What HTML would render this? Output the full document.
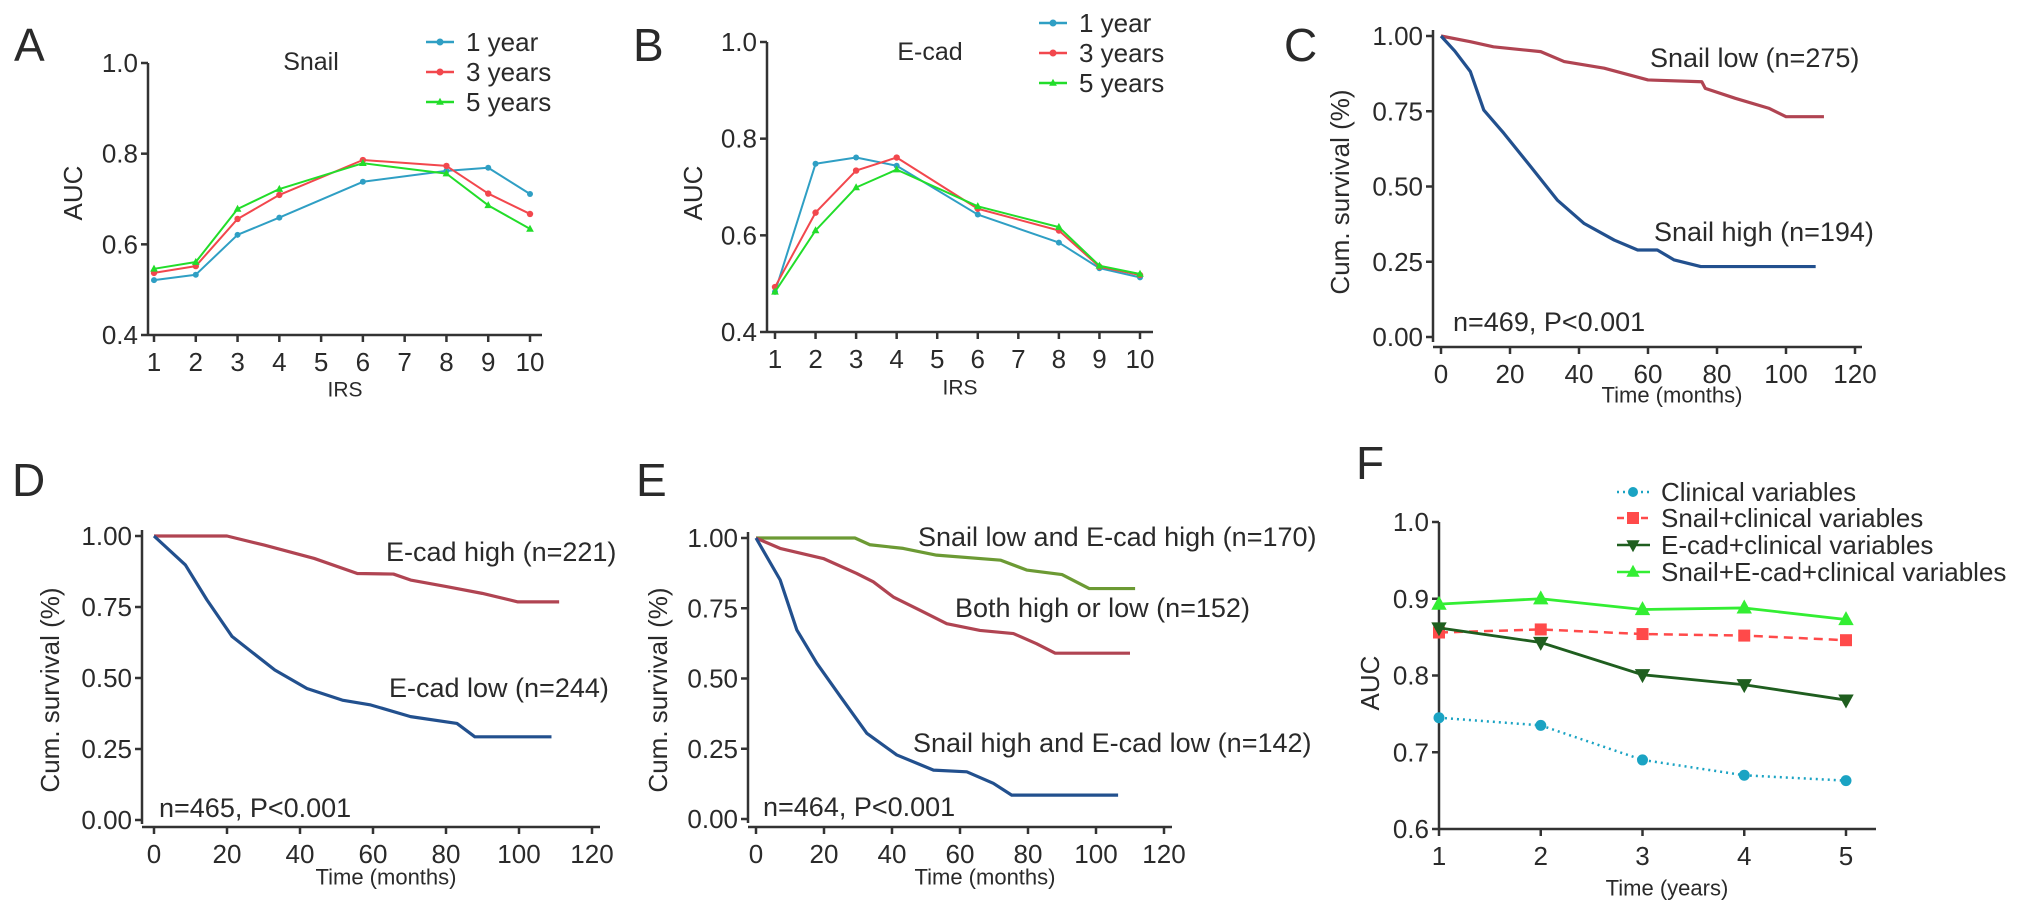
<!DOCTYPE html>
<html><head><meta charset="utf-8"><style>
html,body{margin:0;padding:0;background:#fff;}
svg{display:block;font-family:"Liberation Sans",Arial,sans-serif;}
text{fill:#2a2a2a;}
</style></head><body>
<svg id="fig" width="2032" height="914" viewBox="0 0 2032 914" xmlns="http://www.w3.org/2000/svg"></svg>
<script>
// ---------- DATA ----------
const irsA = [1,2,3,4,6,8,9,10];
const aucA1 = [0.521,0.533,0.621,0.659,0.738,0.762,0.769,0.711];
const aucA3 = [0.537,0.552,0.656,0.709,0.786,0.773,0.712,0.667];
const aucA5 = [0.546,0.561,0.678,0.722,0.779,0.756,0.686,0.634];
const irsB = [1,2,3,4,6,8,9,10];
const aucB1 = [0.483,0.748,0.761,0.744,0.643,0.585,0.532,0.513];
const aucB3 = [0.493,0.647,0.734,0.761,0.655,0.610,0.535,0.518];
const aucB5 = [0.483,0.610,0.699,0.736,0.660,0.617,0.537,0.520];
const irsTicks = [1,2,3,4,5,6,7,8,9,10];
const aucTicksAB = [0.4,0.6,0.8,1.0];

const cLowT = [0,8.5,15.2,28.9,35.7,47.3,60,75.6,76.6,85.3,95,100,111];
const cLowS = [1,0.981,0.964,0.948,0.915,0.893,0.854,0.848,0.826,0.793,0.76,0.732,0.732];
const cHighT = [0,4,8.5,12.4,18.2,26,33.7,41.5,50.2,57,62.7,67.6,75.3,108.6];
const cHighS = [1,0.95,0.882,0.754,0.677,0.566,0.455,0.377,0.322,0.289,0.289,0.256,0.234,0.234];
const dHighT = [0,20,30.2,43.9,55.7,65.6,70.3,80.1,89.9,99.7,111];
const dHighS = [1,1,0.968,0.921,0.868,0.866,0.845,0.822,0.798,0.768,0.768];
const dLowT = [0,8.6,14.5,21.4,33.1,41.9,51.6,59.4,70.3,83,87.9,108.9];
const dLowS = [1,0.898,0.775,0.646,0.528,0.463,0.422,0.405,0.364,0.340,0.293,0.293];
const eGreenT = [0,29.1,33.5,43.3,53.1,72,79.6,90,98,111.5];
const eGreenS = [1,1,0.976,0.963,0.939,0.921,0.886,0.87,0.82,0.82];
const eRedT = [0,7.1,19.8,29.6,34.5,40.4,48.2,56.1,65.9,75.7,82.5,88,110];
const eRedS = [1,0.963,0.927,0.874,0.844,0.790,0.743,0.695,0.671,0.660,0.624,0.59,0.59];
const eBlueT = [0,7.1,12,17.9,24.8,32.6,41.4,52.2,62,69.8,75.2,106.5];
const eBlueS = [1,0.851,0.673,0.554,0.436,0.305,0.228,0.174,0.168,0.127,0.085,0.085];
const survTicks = [0,0.25,0.5,0.75,1.0];
const monthTicks = [0,20,40,60,80,100,120];

const years = [1,2,3,4,5];
const fClin = [0.745,0.735,0.690,0.670,0.663];
const fSnail = [0.856,0.860,0.854,0.852,0.846];
const fEcad = [0.862,0.843,0.801,0.788,0.768];
const fAll = [0.893,0.900,0.886,0.888,0.873];
const fTicks = [0.6,0.7,0.8,0.9,1.0];

// ---------- HELPERS ----------
const NS="http://www.w3.org/2000/svg";
const svg=document.getElementById('fig');
function el(tag,attrs,parent){const e=document.createElementNS(NS,tag);for(const k in attrs)e.setAttribute(k,attrs[k]);(parent||svg).appendChild(e);return e;}
function txt(s,x,y,size,anchor,parent,extra){const t=el('text',Object.assign({x:x,y:y,'font-size':size,'text-anchor':anchor||'start','dominant-baseline':'central'},extra||{}),parent);t.textContent=s;return t;}
function lin(d0,d1,p0,p1){return v=>p0+(v-d0)*(p1-p0)/(d1-d0);}
function grp(name){const g=el('g',{});return g;}

function axes(g,X,Y,o){
  const ya=el('line',{x1:o.ax,y1:o.yTop,x2:o.ax,y2:o.yBot,stroke:'#333','stroke-width':2.5},g);
  
  o.yt.forEach(v=>{el('line',{x1:o.ax-7,y1:Y(v),x2:o.ax,y2:Y(v),stroke:'#333','stroke-width':2.5},g);
    const t=txt(o.yfmt(v),o.ax-10,Y(v),o.fs||26,'end',g);});
  const xa=el('line',{x1:o.xl,y1:o.xy,x2:o.xr,y2:o.xy,stroke:'#333','stroke-width':2.5},g);
  
  o.xt.forEach(v=>{el('line',{x1:X(v),y1:o.xy,x2:X(v),y2:o.xy+7,stroke:'#333','stroke-width':2.5},g);
    const t=txt(String(v),X(v),o.xy+27,o.fs||26,'middle',g);});
}
function yTitle(g,s,x,y,size){const t=txt(s,x,y,size,'middle',g,{transform:'rotate(-90 '+x+' '+y+')'});}
function xTitle(g,s,x,y,size){const t=txt(s,x,y,size,'middle',g);}
function letter(s,x,y){const t=txt(s,x,y,46,'start');}

function marker(g,type,x,y,color,r){
  let m;
  if(type==='circle')m=el('circle',{cx:x,cy:y,r:r,fill:color},g);
  else if(type==='square')m=el('rect',{x:x-r,y:y-r,width:2*r,height:2*r,fill:color},g);
  else if(type==='up')m=el('polygon',{points:`${x},${y-r*1.2} ${x-r*1.1},${y+r*0.8} ${x+r*1.1},${y+r*0.8}`,fill:color},g);
  else m=el('polygon',{points:`${x},${y+r*1.2} ${x-r*1.1},${y-r*0.8} ${x+r*1.1},${y-r*0.8}`,fill:color},g);
  return m;
}
function series(g,name,xs,ys,X,Y,color,w,dash,mk,r){
  const s=grp(name);g.appendChild(s);
  const pts=xs.map((v,i)=>X(v)+','+Y(ys[i])).join(' ');
  const pl=el('polyline',{points:pts,fill:'none',stroke:color,'stroke-width':w,'stroke-dasharray':dash||'none','stroke-linejoin':'round'},s);
  
  xs.forEach((v,i)=>{const m=marker(s,mk,X(v),Y(ys[i]),color,r);
    });
}
function km(g,name,ts,ss,X,Y,color){
  let d='M'+X(ts[0])+','+Y(ss[0]);
  for(let i=1;i<ts.length;i++){d+=' L'+X(ts[i])+','+Y(ss[i]);}
  const p=el('path',{d:d,fill:'none',stroke:color,'stroke-width':3.2,'stroke-linejoin':'round'},g);
  
}
function legendAB(g,x0,y0){
  const items=[['1 year','#2f9fc4','circle'],['3 years','#f2474d','circle'],['5 years','#22dd2a','up']];
  items.forEach((it,i)=>{const y=y0+i*30;const lg=grp('legend-entry');g.appendChild(lg);
    el('line',{x1:x0,y1:y,x2:x0+28,y2:y,stroke:it[1],'stroke-width':2.5},lg);
    marker(lg,it[2],x0+14,y,it[1],3.5);
    txt(it[0],x0+40,y,26,'start',lg);});
}

// ---------- PANEL A ----------
(function(){
  const g=grp('panel-a-snail-auc');svg.appendChild(g);
  letter('A',14,45);
  const X=lin(1,10,154,530),Y=lin(0.4,1.0,335,63);
  axes(g,X,Y,{ax:148,yTop:63,yBot:335,yt:aucTicksAB,yfmt:v=>v.toFixed(1),xl:148,xr:542,xy:335,xt:irsTicks});
  yTitle(g,'AUC',73,193,26);xTitle(g,'IRS',345,390,21);
  const t=txt('Snail',311,62,25,'middle',g);
  series(g,'series-1-year',irsA,aucA1,X,Y,'#2f9fc4',2,null,'circle',3);
  series(g,'series-3-years',irsA,aucA3,X,Y,'#f2474d',2,null,'circle',3.2);
  series(g,'series-5-years',irsA,aucA5,X,Y,'#22dd2a',2,null,'up',3.5);
  legendAB(g,426,42);
})();
// ---------- PANEL B ----------
(function(){
  const g=grp('panel-b-ecad-auc');svg.appendChild(g);
  letter('B',633,45);
  const X=lin(1,10,775,1140),Y=lin(0.4,1.0,332,42);
  axes(g,X,Y,{ax:767,yTop:42,yBot:332,yt:aucTicksAB,yfmt:v=>v.toFixed(1),xl:767,xr:1153,xy:332,xt:irsTicks});
  yTitle(g,'AUC',693,193,26);xTitle(g,'IRS',960,388,21);
  const t=txt('E-cad',930,52,25,'middle',g);
  series(g,'series-1-year',irsB,aucB1,X,Y,'#2f9fc4',2,null,'circle',3);
  series(g,'series-3-years',irsB,aucB3,X,Y,'#f2474d',2,null,'circle',3.2);
  series(g,'series-5-years',irsB,aucB5,X,Y,'#22dd2a',2,null,'up',3.5);
  legendAB(g,1039,23);
})();
// ---------- PANEL C ----------
(function(){
  const g=grp('panel-c-snail-survival');svg.appendChild(g);
  letter('C',1284,45);
  const X=lin(0,120,1441,1855),Y=lin(0,1,337,36);
  axes(g,X,Y,{ax:1433,yTop:30,yBot:342,yt:survTicks,yfmt:v=>v.toFixed(2),xl:1433,xr:1862,xy:347,xt:monthTicks});
  yTitle(g,'Cum. survival (%)',1340,192,26);xTitle(g,'Time (months)',1672,395,22);
  km(g,'snail-low-curve',cLowT,cLowS,X,Y,'#b04452');
  km(g,'snail-high-curve',cHighT,cHighS,X,Y,'#22508e');
  txt('Snail low (n=275)',1650,58,27,'start',g);
  txt('Snail high (n=194)',1654,232,27,'start',g);
  txt('n=469, P<0.001',1453,322,27,'start',g);
})();
// ---------- PANEL D ----------
(function(){
  const g=grp('panel-d-ecad-survival');svg.appendChild(g);
  letter('D',12,480);
  const X=lin(0,120,154,592),Y=lin(0,1,820,536);
  axes(g,X,Y,{ax:142,yTop:530,yBot:824,yt:survTicks,yfmt:v=>v.toFixed(2),xl:142,xr:600,xy:827,xt:monthTicks});
  yTitle(g,'Cum. survival (%)',50,690,26);xTitle(g,'Time (months)',386,877,22);
  km(g,'ecad-high-curve',dHighT,dHighS,X,Y,'#b04452');
  km(g,'ecad-low-curve',dLowT,dLowS,X,Y,'#22508e');
  txt('E-cad high (n=221)',386,552,27,'start',g);
  txt('E-cad low (n=244)',389,688,27,'start',g);
  txt('n=465, P<0.001',159,808,27,'start',g);
})();
// ---------- PANEL E ----------
(function(){
  const g=grp('panel-e-combined-survival');svg.appendChild(g);
  letter('E',636,480);
  const X=lin(0,120,756,1164),Y=lin(0,1,819,538);
  axes(g,X,Y,{ax:748,yTop:532,yBot:823,yt:survTicks,yfmt:v=>v.toFixed(2),xl:748,xr:1172,xy:827,xt:monthTicks});
  yTitle(g,'Cum. survival (%)',658,690,26);xTitle(g,'Time (months)',985,877,22);
  km(g,'snail-low-ecad-high-curve',eGreenT,eGreenS,X,Y,'#6c9a34');
  km(g,'both-high-or-low-curve',eRedT,eRedS,X,Y,'#b04452');
  km(g,'snail-high-ecad-low-curve',eBlueT,eBlueS,X,Y,'#22508e');
  txt('Snail low and E-cad high (n=170)',918,537,27,'start',g);
  txt('Both high or low (n=152)',955,608,27,'start',g);
  txt('Snail high and E-cad low (n=142)',913,743,27,'start',g);
  txt('n=464, P<0.001',763,807,27,'start',g);
})();
// ---------- PANEL F ----------
(function(){
  const g=grp('panel-f-model-auc');svg.appendChild(g);
  letter('F',1356,463);
  const X=lin(1,5,1439,1846),Y=lin(0.6,1.0,829,522);
  axes(g,X,Y,{ax:1439,yTop:522,yBot:829,yt:fTicks,yfmt:v=>v.toFixed(1),xl:1439,xr:1876,xy:829,xt:years});
  yTitle(g,'AUC',1370,683,26);xTitle(g,'Time (years)',1667,888,22);
  series(g,'clinical-variables',years,fClin,X,Y,'#1aa3c3',2.5,'2 4','circle',5.5);
  series(g,'snail-clinical',years,fSnail,X,Y,'#ff4a4a',2.5,'9 6','square',6);
  series(g,'ecad-clinical',years,fEcad,X,Y,'#1f5e1f',2.8,null,'down',7);
  series(g,'snail-ecad-clinical',years,fAll,X,Y,'#33ee33',2.8,null,'up',7);
  const items=[['Clinical variables','#1aa3c3','2 4','circle'],['Snail+clinical variables','#ff4a4a','7 5','square'],['E-cad+clinical variables','#1f5e1f',null,'down'],['Snail+E-cad+clinical variables','#33ee33',null,'up']];
  const ly=[492,518,545,572];
  items.forEach((it,i)=>{const lg=grp('legend-entry');g.appendChild(lg);
    el('line',{x1:1617,y1:ly[i],x2:1650,y2:ly[i],stroke:it[1],'stroke-width':2.5,'stroke-dasharray':it[2]||'none'},lg);
    marker(lg,it[3],1633,ly[i],it[1],it[3]==='circle'?5:6);
    txt(it[0],1661,ly[i],26,'start',lg);});
})();
</script>
</body></html>
